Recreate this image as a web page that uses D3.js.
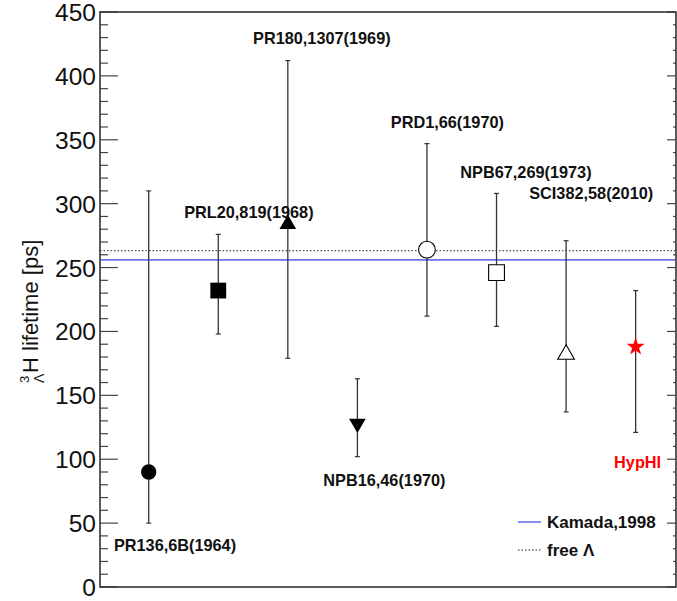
<!DOCTYPE html>
<html>
<head>
<meta charset="utf-8">
<script src="https://cdn.jsdelivr.net/npm/d3@7"></script>
<style>
    body { margin: 0; background: #fff; }
    svg { display: block; font-family: "Liberation Sans", Arial, sans-serif; }
</style>
</head>
<body>
<script>
// ================================
// DATA
// ================================

// measurements in order along the x axis
var labels = ["PR136,6B(1964)", "PRL20,819(1968)", "PR180,1307(1969)", "NPB16,46(1970)",
              "PRD1,66(1970)", "NPB67,269(1973)", "SCI382,58(2010)", "HypHI"];
var lifetimes = [90, 232, 284, 128, 264, 246, 182, 188];
var errHigh = [310, 276, 412, 163, 347, 308, 271, 232];
var errLow = [50, 198, 179, 102, 212, 204, 137, 121];
var markers = ["circleFill", "squareFill", "triUpFill", "triDownFill",
               "circleOpen", "squareOpen", "triUpOpen", "star"];

// where each label sits (value units) and how far left of its point
var labelValue = [28, 289, 425, 79, 359, 320, 304, 93];
var labelShift = [0.5, 0.49, 0.5, 0.49, 0.52, 0.52, 0.53, 0.31];

// reference lines
var kamada = 256;
var freeLambda = 263.2;

var yTicks = [0, 50, 100, 150, 200, 250, 300, 350, 400, 450];

// ================================
// CHART
// ================================
var width = 677,
    height = 601;

// frame edges in pixels ("top" is taken by window.top)
var frameL = 100, frameR = 676, frameT = 12, frameB = 587;

var svg = d3.select("body")
    .append("svg")
    .attr("width", width)
    .attr("height", height);

var x = d3.scaleLinear()
    .domain([0.3, 8.58])
    .range([frameL, frameR]);

var y = d3.scaleLinear()
    .domain([0, 450])
    .range([frameB, frameT]);

// reference lines
svg.append("line")
    .attr("x1", frameL).attr("x2", frameR)
    .attr("y1", y(freeLambda)).attr("y2", y(freeLambda))
    .attr("stroke", "#222")
    .attr("stroke-width", 1)
    .attr("stroke-dasharray", "1.5,2");

svg.append("line")
    .attr("x1", frameL).attr("x2", frameR)
    .attr("y1", y(kamada)).attr("y2", y(kamada))
    .attr("stroke", "#6f6ff5")
    .attr("stroke-width", 1.6);

// error bars
var idx = d3.range(lifetimes.length);

svg.selectAll(".err")
    .data(idx)
    .enter()
    .append("line")
    .attr("class", "err")
    .attr("x1", function(i){ return x(i + 1); })
    .attr("x2", function(i){ return x(i + 1); })
    .attr("y1", function(i){ return y(errLow[i]); })
    .attr("y2", function(i){ return y(errHigh[i]); })
    .attr("stroke", "#333")
    .attr("stroke-width", 1.3);

// small end caps
idx.forEach(function(i){
    [errLow[i], errHigh[i]].forEach(function(v){
        svg.append("line")
            .attr("x1", x(i + 1) - 2.5).attr("x2", x(i + 1) + 2.5)
            .attr("y1", y(v)).attr("y2", y(v))
            .attr("stroke", "#333")
            .attr("stroke-width", 1.2);
    });
});

// markers
function markerPath(m){
    if (m === "circleOpen") return d3.symbol(d3.symbolCircle, 220)();
    if (m === "circleFill") return d3.symbol(d3.symbolCircle, 185)();
    if (m.indexOf("square") === 0) return d3.symbol(d3.symbolSquare, 250)();
    if (m.indexOf("tri") === 0) return d3.symbol(d3.symbolTriangle, 120)();
    return d3.symbol(d3.symbolStar, 100)();
}

svg.selectAll(".marker")
    .data(idx)
    .enter()
    .append("path")
    .attr("class", "marker")
    .attr("d", function(i){ return markerPath(markers[i]); })
    .attr("transform", function(i){
        var t = "translate(" + x(i + 1) + "," + y(lifetimes[i]) + ")";
        if (markers[i] === "triDownFill") t += " rotate(180)";
        return t;
    })
    .attr("fill", function(i){
        var m = markers[i];
        if (m === "star") return "#ff0000";
        return m.indexOf("Fill") > 0 ? "#000" : "#fff";
    })
    .attr("stroke", function(i){ return markers[i] === "star" ? "none" : "#000"; })
    .attr("stroke-width", function(i){ return markers[i].indexOf("Open") > 0 ? 1.1 : 0; });

// measurement labels
svg.selectAll(".lab")
    .data(idx)
    .enter()
    .append("text")
    .attr("class", "lab")
    .attr("x", function(i){ return x(i + 1 - labelShift[i]); })
    .attr("y", function(i){ return y(labelValue[i]); })
    .attr("font-size", 16.3)
    .attr("font-weight", "bold")
    .attr("fill", function(i){ return markers[i] === "star" ? "#ff0000" : "#111"; })
    .text(function(i){ return labels[i]; });

// ================================
// AXES + FRAME
// ================================
var minor = d3.range(0, 451, 10);

minor.forEach(function(v){
    var major = v % 50 === 0;
    svg.append("line")
        .attr("x1", frameL).attr("x2", frameL + (major ? 18 : 8))
        .attr("y1", y(v)).attr("y2", y(v))
        .attr("stroke", "#444").attr("stroke-width", 1.2);
    svg.append("line")
        .attr("x1", frameR).attr("x2", frameR - (major ? 9 : 3))
        .attr("y1", y(v)).attr("y2", y(v))
        .attr("stroke", "#444").attr("stroke-width", 1.2);
});

svg.append("rect")
    .attr("x", frameL).attr("y", frameT)
    .attr("width", frameR - frameL).attr("height", frameB - frameT)
    .attr("fill", "none")
    .attr("stroke", "#333")
    .attr("stroke-width", 1.6);

svg.selectAll(".ytick")
    .data(yTicks)
    .enter()
    .append("text")
    .attr("class", "ytick")
    .attr("x", frameL - 4)
    .attr("y", function(d){ return y(d) + 9; })
    .attr("text-anchor", "end")
    .attr("font-size", 24.5)
    .attr("fill", "#111")
    .text(function(d){ return d; });

// y title: ^{3}_{Λ}H lifetime [ps]
var yt = svg.append("text")
    .attr("transform", "translate(38,308) rotate(-90)")
    .attr("font-size", 22)
    .attr("fill", "#111");

yt.append("tspan").attr("x", -75).attr("y", -9).attr("font-size", 13).text("3");
yt.append("tspan").attr("x", -75).attr("y", 6).attr("font-size", 14).text("Λ");
yt.append("tspan").attr("x", -65).attr("y", 0).text("H lifetime [ps]");

// ================================
// LEGEND
// ================================
var legend = svg.append("g")
    .attr("transform", "translate(518,522)");

legend.append("line")
    .attr("x1", 0).attr("x2", 23).attr("y1", 0).attr("y2", 0)
    .attr("stroke", "#6f6ff5").attr("stroke-width", 1.6);

legend.append("text")
    .attr("x", 29).attr("y", 6)
    .attr("font-size", 17).attr("font-weight", "bold").attr("fill", "#111")
    .text("Kamada,1998");

legend.append("line")
    .attr("x1", 0).attr("x2", 23).attr("y1", 28).attr("y2", 28)
    .attr("stroke", "#222").attr("stroke-width", 1)
    .attr("stroke-dasharray", "1.5,2");

legend.append("text")
    .attr("x", 29).attr("y", 34)
    .attr("font-size", 17).attr("font-weight", "bold").attr("fill", "#111")
    .text("free Λ");
</script>
</body>
</html>
